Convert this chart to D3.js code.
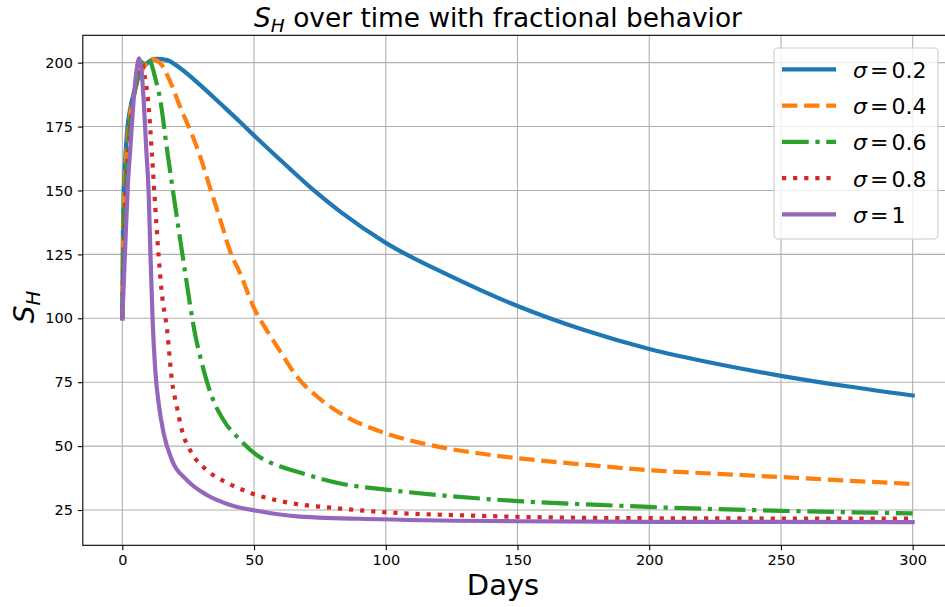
<!DOCTYPE html>
<html>
<head>
<meta charset="utf-8">
<script src="https://cdn.jsdelivr.net/npm/d3@7"></script>
<style>
  html, body { margin: 0; padding: 0; background: #fff; }
  svg { display: block; font-family: "DejaVu Sans", sans-serif; }
</style>
</head>
<body>
<svg id="chart" width="945" height="607"></svg>
<script>
// ---------------- data ----------------
const seriesLabels = ["0.2", "0.4", "0.6", "0.8", "1"];
const seriesColors = ["#1f77b4", "#ff7f0e", "#2ca02c", "#d62728", "#9467bd"];

const daysSigma02 = [0, 0.2, 0.5, 1, 2, 3, 4.3, 6, 9.4, 13, 17, 22, 29.6, 37.2, 44.7, 50, 60, 72.5, 82.7, 100, 125, 150, 175, 200, 225, 250, 275, 300];
const shSigma02   = [100, 130, 148, 160, 175, 182, 188, 194, 199.8, 201.5, 201, 197.8, 191.2, 184, 176.8, 171.5, 161.9, 150.2, 141.7, 129.5, 116.3, 104.8, 95.5, 88, 82.3, 77.5, 73.4, 69.8];

const daysSigma04 = [0, 0.5, 1, 2, 3, 5, 8, 11, 14.4, 18, 22, 26, 29.6, 33, 37.2, 41, 44.7, 50, 55, 60, 66, 75, 85, 100, 117, 135, 150, 175, 200, 225, 250, 275, 300];
const shSigma04   = [100, 140, 155, 170, 180, 190, 198, 201.5, 199.8, 193, 182.6, 173, 163.2, 152, 138.5, 126, 117.6, 104, 95, 87, 77.5, 68.5, 61.5, 55, 50.4, 47.2, 45.3, 42.8, 40.6, 39.2, 37.9, 36.5, 35.2];

const daysSigma06 = [0, 0.5, 1, 2, 3, 5, 7, 9.3, 10.6, 12.5, 14.4, 17, 20.1, 23.9, 27.3, 30.2, 34, 38.4, 44.7, 51, 60, 64.4, 82.7, 101.6, 134.5, 150, 181, 200, 250, 300];
const shSigma06   = [100, 130, 146, 165, 177, 190, 198, 201.5, 200.5, 194, 185.4, 165.8, 143.7, 117.6, 95.5, 82.4, 69.3, 60.2, 52.4, 46.5, 42, 40.6, 35.4, 32.8, 29.6, 28.5, 27, 26.2, 24.7, 23.7];

const daysSigma08 = [0, 1, 2, 3, 4.5, 6, 7.3, 8.1, 10, 11.3, 12.5, 13.8, 15, 17, 18.8, 20.7, 22.6, 26.4, 32.1, 40.3, 49.2, 62.4, 81.4, 100.4, 133.2, 180, 240, 300];
const shSigma08   = [100, 135, 158, 173, 188, 197, 201.5, 197, 182.8, 163.2, 143.7, 124.1, 109.8, 95.4, 75.9, 65.4, 56.3, 47.2, 40.6, 35.4, 31.5, 28, 25.7, 24.1, 22.8, 21.9, 21.7, 21.6];

const daysSigma1  = [0, 1.1, 2.2, 3, 4.3, 5.6, 6.4, 7.2, 8.1, 9.1, 10, 10.6, 11.5, 12.5, 13.8, 15.7, 18.8, 24.5, 32.1, 41, 51, 67.5, 97.8, 150, 200, 300];
const shSigma1    = [100, 128, 154, 166, 185.4, 198.4, 201.7, 198, 185.4, 165.8, 148.9, 128, 99.3, 79.8, 66.7, 55, 44.6, 36.7, 30.9, 27, 24.7, 22.4, 21.4, 20.6, 20.4, 20.3];

const xTicks = [0, 50, 100, 150, 200, 250, 300];
const yTicks = [25, 50, 75, 100, 125, 150, 175, 200];

const allDays = [daysSigma02, daysSigma04, daysSigma06, daysSigma08, daysSigma1];
const allSH   = [shSigma02, shSigma04, shSigma06, shSigma08, shSigma1];

// ---------------- layout ----------------
const svg = d3.select("#chart");
const plot = { left: 82.8, right: 952.2, top: 35.3, bottom: 545.3 };

const x = d3.scaleLinear().domain([-15, 315]).range([plot.left, plot.right]);
const y = d3.scaleLinear().domain([11.2, 210.7]).range([plot.bottom, plot.top]);

const dashes = [null, "15.4,6.7", "26.7,6.7,4.2,6.7", "4.2,6.9", null];
const lw = 4.2;

svg.append("defs").append("clipPath").attr("id", "clip")
  .append("rect").attr("x", plot.left).attr("y", plot.top)
  .attr("width", plot.right - plot.left).attr("height", plot.bottom - plot.top);

// grid
const grid = svg.append("g").attr("stroke", "#b0b0b0").attr("stroke-width", 1.1);
xTicks.forEach(t => grid.append("line")
  .attr("x1", x(t)).attr("x2", x(t)).attr("y1", plot.top).attr("y2", plot.bottom));
yTicks.forEach(t => grid.append("line")
  .attr("x1", plot.left).attr("x2", plot.right).attr("y1", y(t)).attr("y2", y(t)));

// lines
const line = d3.line().x(d => x(d[0])).y(d => y(d[1])).curve(d3.curveMonotoneX);
const lines = svg.append("g").attr("clip-path", "url(#clip)");
allDays.forEach((days, i) => {
  const pts = days.map((t, j) => [t, allSH[i][j]]);
  lines.append("path").datum(pts)
    .attr("d", line)
    .attr("fill", "none")
    .attr("stroke", seriesColors[i])
    .attr("stroke-width", lw)
    .attr("stroke-dasharray", dashes[i])
    .attr("stroke-linejoin", "round")
    .attr("stroke-linecap", dashes[i] ? "butt" : "square");
});

// axes
const xAxis = d3.axisBottom(x).tickValues(xTicks).tickSize(4.9).tickPadding(4.9).tickFormat(d3.format("d"));
const yAxis = d3.axisLeft(y).tickValues(yTicks).tickSize(4.9).tickPadding(4.9).tickFormat(d3.format("d"));
const gx = svg.append("g").attr("transform", `translate(0,${plot.bottom})`).call(xAxis);
const gy = svg.append("g").attr("transform", `translate(${plot.left},0)`).call(yAxis);
[gx, gy].forEach(g => {
  g.select(".domain").remove();
  g.selectAll(".tick line").attr("stroke", "#000").attr("stroke-width", 1.1);
  g.selectAll(".tick text").attr("fill", "#000").style("font-size", "14.5px")
    .style("font-family", "DejaVu Sans, sans-serif");
});

// spines
svg.append("rect").attr("x", plot.left).attr("y", plot.top)
  .attr("width", plot.right - plot.left).attr("height", plot.bottom - plot.top)
  .attr("fill", "none").attr("stroke", "#000").attr("stroke-width", 1.1);

// title
const title = svg.append("text").attr("x", 498).attr("y", 27)
  .attr("text-anchor", "middle").style("font-size", "26.4px").attr("fill", "#000");
title.append("tspan").style("font-style", "italic").text("S");
title.append("tspan").style("font-style", "italic").style("font-size", "18.5px").attr("dy", 5).text("H");
title.append("tspan").attr("dy", -5).text(" over time with fractional behavior");

// x label
svg.append("text").attr("x", 503).attr("y", 595).attr("text-anchor", "middle")
  .style("font-size", "29px").attr("fill", "#000").text("Days");

// y label
const yl = svg.append("text").attr("transform", "translate(34,307) rotate(-90)")
  .attr("text-anchor", "middle").style("font-size", "28px").attr("fill", "#000");
yl.append("tspan").style("font-style", "italic").text("S");
yl.append("tspan").style("font-style", "italic").style("font-size", "19.6px").attr("dy", 5.5).text("H");

// legend
const lg = svg.append("g");
lg.append("rect").attr("x", 774).attr("y", 48).attr("width", 164).attr("height", 191)
  .attr("rx", 4).attr("fill", "#fff").attr("fill-opacity", 0.8)
  .attr("stroke", "#cccccc").attr("stroke-width", 1.1);
const rowY = d3.scaleLinear().domain([0, 4]).range([69.3, 214.3]);
seriesLabels.forEach((lab, i) => {
  const yy = rowY(i);
  lg.append("line").attr("x1", 782).attr("x2", 836).attr("y1", yy).attr("y2", yy)
    .attr("stroke", seriesColors[i]).attr("stroke-width", lw)
    .attr("stroke-dasharray", dashes[i]);
  const t = lg.append("text").attr("x", 853).attr("y", yy + 8.5).style("font-size", "22px").attr("fill", "#000");
  t.append("tspan").style("font-style", "italic").text("σ");
  t.append("tspan").attr("dx", 3).text("=");
  t.append("tspan").attr("dx", 3).text(lab);
});
</script>
</body>
</html>
